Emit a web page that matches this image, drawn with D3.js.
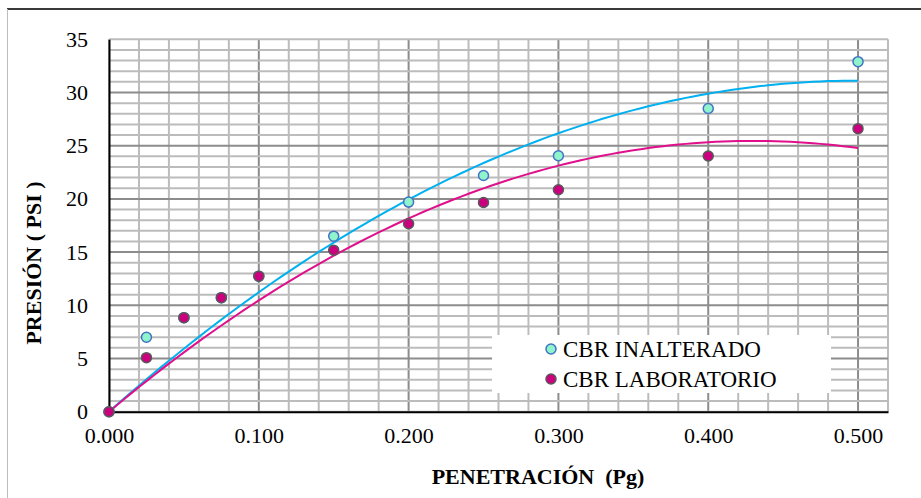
<!DOCTYPE html>
<html>
<head>
<meta charset="utf-8">
<script src="https://cdn.jsdelivr.net/npm/d3@7"></script>
<style>
  body { margin: 0; background: #fff; }
</style>
</head>
<body>
<svg id="chart" width="921" height="498"></svg>
<script>
// ---- data ----
const penetracion = [0.000, 0.025, 0.050, 0.075, 0.100, 0.150, 0.200, 0.250, 0.300, 0.400, 0.500];
const cbrInalterado = [0, 7.0, 8.84, 10.72, 12.74, 16.5, 19.7, 22.2, 24.05, 28.5, 32.9];
const cbrLaboratorio = [0, 5.08, 8.84, 10.72, 12.74, 15.18, 17.66, 19.66, 20.86, 24.03, 26.6];
const xTicks = [0, 0.1, 0.2, 0.3, 0.4, 0.5];
const yTicks = [0, 5, 10, 15, 20, 25, 30, 35];
const seriesNames = ["CBR INALTERADO", "CBR LABORATORIO"];

(function () {
const FONT = "Liberation Serif";
const svg = d3.select("#chart");
const W = 921, H = 498;
const pLeft = 109, pRight = 888, pTop = 39.3, pBottom = 411.7;

const x = d3.scaleLinear().domain([0, 0.52]).range([pLeft, pRight]);
const y = d3.scaleLinear().domain([0, 35]).range([pBottom, pTop]);

// chart frame
svg.append("line").attr("x1", 7).attr("x2", W).attr("y1", 9).attr("y2", 9)
  .attr("stroke", "#3a3a3a").attr("stroke-width", 2);
svg.append("line").attr("x1", 7.5).attr("x2", 7.5).attr("y1", 9).attr("y2", H)
  .attr("stroke", "#bdbdbd").attr("stroke-width", 1);

// grid
const g = svg.append("g");
const minorX = d3.range(0, 0.5201, 0.02).map(v => +v.toFixed(3));
const minorY = d3.range(0, 35.01, 1);
minorX.forEach(v => {
  const major = Math.abs(v * 10 - Math.round(v * 10)) < 1e-6 && v > 0;
  g.append("line").attr("x1", x(v)).attr("x2", x(v)).attr("y1", pTop).attr("y2", pBottom)
    .attr("stroke", major ? "#8c8c8c" : "#bcbcbc").attr("stroke-width", 2);
});
minorY.forEach(v => {
  const major = v % 5 === 0 && v > 0 && v < 35;
  g.append("line").attr("x1", pLeft).attr("x2", pRight).attr("y1", y(v)).attr("y2", y(v))
    .attr("stroke", major ? "#8c8c8c" : "#bcbcbc").attr("stroke-width", 2);
});

// axes
const xAxis = d3.axisBottom(x).tickValues(xTicks).tickFormat(d3.format(".3f")).tickSize(0).tickPadding(16);
const yAxis = d3.axisLeft(y).tickValues(yTicks).tickFormat(d3.format("d")).tickSize(0).tickPadding(21);
const gx = svg.append("g").attr("transform", `translate(0,${pBottom})`).call(xAxis);
const gy = svg.append("g").attr("transform", `translate(${pLeft},0)`).call(yAxis);
[gx, gy].forEach(a => {
  a.attr("font-family", FONT).attr("font-size", 22);
  a.select(".domain").attr("stroke", "#000").attr("stroke-width", 2);
  a.selectAll("text").attr("font-family", FONT).attr("font-size", 22).attr("fill", "#000");
});

// least squares quadratic through origin: y = a x + b x^2 (trendline from the data)
function fitOrigin(xs, ys) {
  let s2 = 0, s3 = 0, s4 = 0, sxy = 0, sx2y = 0;
  xs.forEach((xv, i) => {
    const yv = ys[i];
    s2 += xv * xv; s3 += xv ** 3; s4 += xv ** 4;
    sxy += xv * yv; sx2y += xv * xv * yv;
  });
  const det = s2 * s4 - s3 * s3;
  const a = (sxy * s4 - s3 * sx2y) / det;
  const b = (s2 * sx2y - s3 * sxy) / det;
  return t => a * t + b * t * t;
}

const series = [
  { name: seriesNames[0], values: cbrInalterado, line: "#00b0f0", fill: "#8ff3cc", stroke: "#4472c4" },
  { name: seriesNames[1], values: cbrLaboratorio, line: "#e0108c", fill: "#cc007f", stroke: "#595959" }
];

const samples = d3.range(0, 0.5001, 0.005);
series.forEach(s => {
  const f = fitOrigin(penetracion, s.values);
  svg.append("path")
    .datum(samples)
    .attr("fill", "none").attr("stroke", s.line).attr("stroke-width", 2)
    .attr("d", d3.line().x(d => x(d)).y(d => y(f(d))));
});

series.forEach(s => {
  svg.append("g").selectAll("circle")
    .data(penetracion.map((p, i) => [p, s.values[i]]))
    .join("circle")
    .attr("cx", d => x(d[0])).attr("cy", d => y(d[1])).attr("r", 5)
    .attr("fill", s.fill).attr("stroke", s.stroke).attr("stroke-width", 1.5);
});

// legend
const lg = svg.append("g");
lg.append("rect").attr("x", 492).attr("y", 335).attr("width", 339).attr("height", 58).attr("fill", "#fff");
series.forEach((s, i) => {
  const cy = 349 + i * 30;
  lg.append("circle").attr("cx", 551).attr("cy", cy).attr("r", 5)
    .attr("fill", s.fill).attr("stroke", s.stroke).attr("stroke-width", 1.5);
  lg.append("text").attr("x", 563).attr("y", cy + 8)
    .attr("font-family", FONT).attr("font-size", 23).attr("fill", "#000").text(s.name);
});

// axis titles
svg.append("text").attr("x", 538).attr("y", 484).attr("text-anchor", "middle")
  .attr("font-family", FONT).attr("font-size", 22).attr("font-weight", "bold").attr("fill", "#000")
  .style("white-space", "pre")
  .text("PENETRACIÓN  (Pg)");
svg.append("text").attr("transform", "translate(41,263) rotate(-90)").attr("text-anchor", "middle")
  .attr("font-family", FONT).attr("font-size", 22).attr("font-weight", "bold").attr("fill", "#000")
  .text("PRESIÓN ( PSI )");
})();
</script>
</body>
</html>
